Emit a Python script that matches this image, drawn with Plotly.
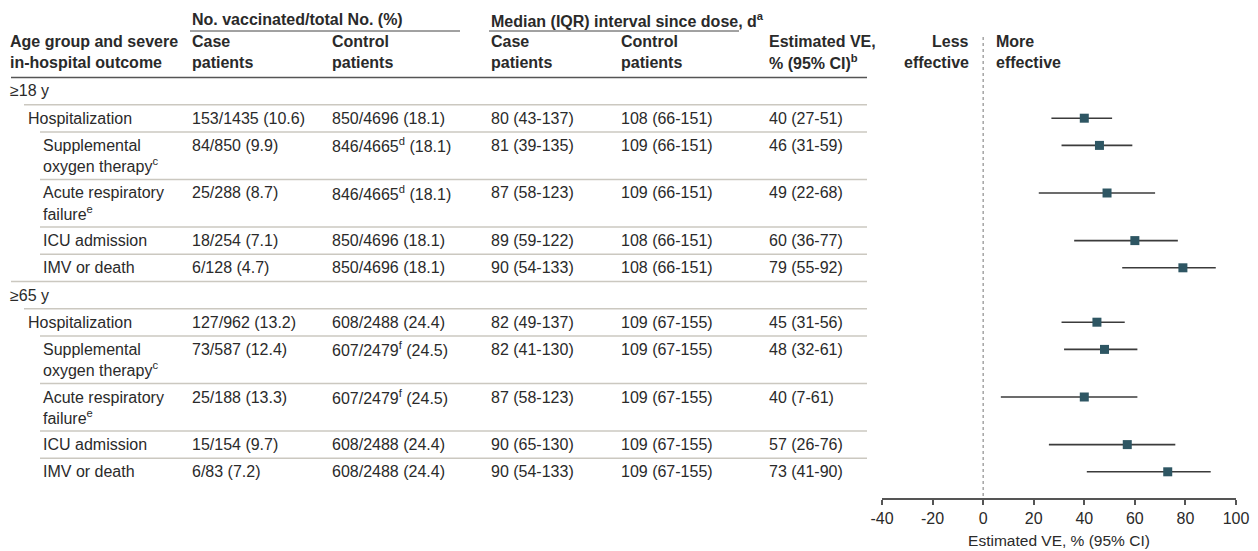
import plotly.graph_objects as go

# ---- data ----
group_labels = ["≥18 y", "≥65 y"]
outcome_lines = [
    ["Hospitalization"],
    ["Supplemental", "oxygen therapy<sup>c</sup>"],
    ["Acute respiratory", "failure<sup>e</sup>"],
    ["ICU admission"],
    ["IMV or death"],
]

case_vacc_18 = ["153/1435 (10.6)", "84/850 (9.9)", "25/288 (8.7)", "18/254 (7.1)", "6/128 (4.7)"]
ctrl_vacc_18 = ["850/4696 (18.1)", "846/4665<sup>d</sup> (18.1)", "846/4665<sup>d</sup> (18.1)",
                "850/4696 (18.1)", "850/4696 (18.1)"]
case_med_18 = ["80 (43-137)", "81 (39-135)", "87 (58-123)", "89 (59-122)", "90 (54-133)"]
ctrl_med_18 = ["108 (66-151)", "109 (66-151)", "109 (66-151)", "108 (66-151)", "108 (66-151)"]
ve_18 = [40, 46, 49, 60, 79]
lo_18 = [27, 31, 22, 36, 55]
hi_18 = [51, 59, 68, 77, 92]

case_vacc_65 = ["127/962 (13.2)", "73/587 (12.4)", "25/188 (13.3)", "15/154 (9.7)", "6/83 (7.2)"]
ctrl_vacc_65 = ["608/2488 (24.4)", "607/2479<sup>f</sup> (24.5)", "607/2479<sup>f</sup> (24.5)",
                "608/2488 (24.4)", "608/2488 (24.4)"]
case_med_65 = ["82 (49-137)", "82 (41-130)", "87 (58-123)", "90 (65-130)", "90 (54-133)"]
ctrl_med_65 = ["109 (67-155)", "109 (67-155)", "109 (67-155)", "109 (67-155)", "109 (67-155)"]
ve_65 = [45, 48, 40, 57, 73]
lo_65 = [31, 32, 7, 26, 41]
hi_65 = [56, 61, 61, 76, 90]

x_ticks = [-40, -20, 0, 20, 40, 60, 80, 100]
x_tick_labels = ["-40", "-20", "0", "20", "40", "60", "80", "100"]

groups = [
    (case_vacc_18, ctrl_vacc_18, case_med_18, ctrl_med_18, ve_18, lo_18, hi_18),
    (case_vacc_65, ctrl_vacc_65, case_med_65, ctrl_med_65, ve_65, lo_65, hi_65),
]

# ---- layout constants (pixels) ----
W, H = 1258, 551
FONT = "Liberation Sans, Arial, sans-serif"
TXT = "#2a2a2a"
RULE = "#cbc8c0"
AXIS_Y = 498
HEADER_BOTTOM = 77.5
ROW1, ROW2 = 27.2, 47.6
LINE_GAP = 20
TOP_PAD = 13.5
COL_X = [190, 330, 489, 619, 767]
TABLE_RIGHT = 867


def px(x):
    return x / W


def py(y):
    return 1 - y / H


annotations = []
shapes = []


def text(x, y, s, bold=False, anchor="left", size=16):
    annotations.append(dict(
        x=px(x), y=py(y), xref="paper", yref="paper", text=f"<b>{s}</b>" if bold else s,
        showarrow=False, xanchor=anchor, yanchor="middle",
        font=dict(family=FONT, size=size, color=TXT), align=anchor,
    ))


def hline(x0, x1, y, color=RULE, width=1.5):
    shapes.append(dict(type="line", xref="paper", yref="paper", x0=px(x0), x1=px(x1),
                       y0=py(y), y1=py(y), line=dict(color=color, width=width)))


# ---- header ----
text(190, 20, "No. vaccinated/total No. (%)", bold=True)
text(489, 20, "Median (IQR) interval since dose, d<sup>a</sup>", bold=True)
hline(190, 460, 31, color="#444444", width=1)
hline(489, 739, 31, color="#444444", width=1)
text(8, 42, "Age group and severe", bold=True)
text(8, 62, "in-hospital outcome", bold=True)
for cx, (l1, l2) in zip(COL_X, [("Case", "patients"), ("Control", "patients"),
                                ("Case", "patients"), ("Control", "patients"),
                                ("Estimated VE,", "% (95% CI)<sup>b</sup>")]):
    text(cx, 42, l1, bold=True)
    text(cx, 62, l2, bold=True)
text(971, 42, "Less", bold=True, anchor="right")
text(971, 62, "effective", bold=True, anchor="right")
text(994, 42, "More", bold=True)
text(994, 62, "effective", bold=True)
hline(11, TABLE_RIGHT, HEADER_BOTTOM, color="#555555", width=1.5)

# ---- body rows ----
marker_y, marker_x, err_lo, err_hi = [], [], [], []
y = HEADER_BOTTOM
for gi, (glabel, cols) in enumerate(zip(group_labels, groups)):
    case_v, ctrl_v, case_m, ctrl_m, ve, lo, hi = cols
    text(8, y + TOP_PAD, glabel)
    y += ROW1
    hline(24, TABLE_RIGHT, y)
    for ri, lines in enumerate(outcome_lines):
        cy = y + TOP_PAD
        indent = 26 if ri == 0 else 41
        for li, ln in enumerate(lines):
            text(indent, cy + li * LINE_GAP, ln)
        ve_txt = f"{ve[ri]} ({lo[ri]}-{hi[ri]})"
        for cx, s in zip(COL_X, [case_v[ri], ctrl_v[ri], case_m[ri], ctrl_m[ri], ve_txt]):
            text(cx, cy, s)
        marker_y.append(cy)
        marker_x.append(ve[ri])
        err_lo.append(ve[ri] - lo[ri])
        err_hi.append(hi[ri] - ve[ri])
        y += ROW1 if len(lines) == 1 else ROW2
        last = ri == len(outcome_lines) - 1
        if not last:
            hline(40, TABLE_RIGHT, y)
        elif gi < len(group_labels) - 1:
            hline(11, TABLE_RIGHT, y)

# reference line at VE = 0
shapes.append(dict(type="line", xref="x", yref="y", x0=0, x1=0, y0=37, y1=AXIS_Y,
                   line=dict(color="#777777", width=1, dash="dot"), layer="below"))

fig = go.Figure()
fig.add_trace(go.Scatter(
    x=marker_x, y=marker_y, mode="markers",
    marker=dict(symbol="square", size=9, color="#2e5663", line=dict(width=0)),
    error_x=dict(type="data", symmetric=False, array=err_hi, arrayminus=err_lo,
                 color="#3b3b3b", thickness=1.6, width=0),
    showlegend=False, hoverinfo="skip", cliponaxis=False,
))

fig.update_layout(
    width=W, height=H, margin=dict(l=0, r=0, t=0, b=0),
    paper_bgcolor="white", plot_bgcolor="white",
    annotations=annotations, shapes=shapes,
    xaxis=dict(domain=[px(882), px(1236)], range=[-40, 100],
               tickvals=x_ticks, ticktext=x_tick_labels,
               showgrid=False, zeroline=False, showline=True, linecolor="#555555", linewidth=1.5,
               ticks="outside", ticklen=5, tickcolor="#555555", tickwidth=1.5,
               tickfont=dict(family=FONT, size=16, color=TXT), automargin=False,
               title=dict(text="Estimated VE, % (95% CI)", standoff=9,
                          font=dict(family=FONT, size=15.5, color=TXT))),
    yaxis=dict(domain=[1 - AXIS_Y / H, 1], range=[AXIS_Y, 0], visible=False, automargin=False),
)

fig.write_html("out.html")
